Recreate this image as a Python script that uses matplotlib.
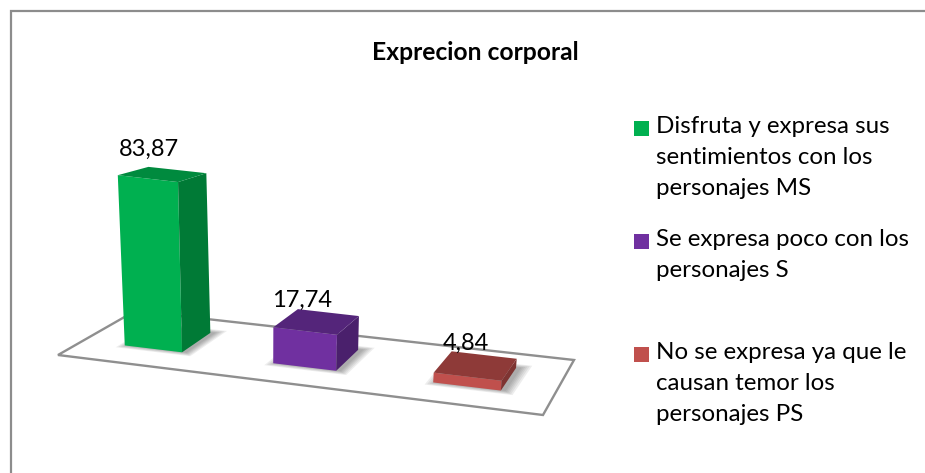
import matplotlib
matplotlib.use("Agg")
import matplotlib.pyplot as plt
from matplotlib.patches import Polygon, Rectangle
import numpy as np

# ---- data ----
categories = [
    "Disfruta y expresa sus\nsentimientos con los\npersonajes MS",
    "Se expresa poco con los\npersonajes S",
    "No se expresa ya que le\ncausan temor los\npersonajes PS",
]
values = [83.87, 17.74, 4.84]
value_labels = ["83,87", "17,74", "4,84"]
title = "Exprecion corporal"

# ---- style ----
front_colors = ["#00B050", "#7030A0", "#C0504D"]
top_colors = ["#008A3E", "#54257A", "#8E3A38"]
side_colors = ["#007A36", "#4A206C", "#7E3432"]
FONT = "Lato"
plt.rcParams["font.family"] = [FONT, "DejaVu Sans"]

# ---- projection of the 3D floor onto the picture ----
FL, FR, BR, BL = map(np.array, [(58, 355), (543, 415), (574, 360), (135, 311)])
centers = [0.149, 0.471, 0.8165]
half_w = [0.061, 0.067, 0.072]
V0, V1 = 0.33, 0.75
label_dx = [-13, -14, -9]
label_dy = [-18, -9, -8]


def project(s, v, z=0.0):
    base = (1 - v) * ((1 - s) * FL + s * FR) + v * ((1 - s) * BL + s * BR)
    k = 2.03 - (v - 0.33) * 0.3
    lean = -0.083 + 0.287 * (s - 0.088)
    return base + np.array([lean * z, -k * z])


fig = plt.figure(figsize=(9.25, 4.73), dpi=100, facecolor="white")
ax = fig.add_axes([0, 0, 1, 1])
ax.set_xlim(0, 925)
ax.set_ylim(473, 0)
ax.axis("off")

# chart frame
ax.plot([10.5, 10.5, 925], [473, 11.5, 11.5], color="#8C8C8C", lw=1.6,
        solid_joinstyle="miter", zorder=1)

# floor
ax.add_patch(Polygon([FL, FR, BR, BL], closed=True, facecolor="white",
                     edgecolor="#8F8F8F", lw=1.7, zorder=2))

for i, val in enumerate(values):
    s0, s1 = centers[i] - half_w[i], centers[i] + half_w[i]
    # soft shadow on the floor
    a, b, c, d = (project(s0, V0), project(s1, V0), project(s1, V1), project(s0, V1))
    foot = np.array([a, b, c, d])
    mid = foot.mean(axis=0)
    for g in (1.3, 1.24, 1.18, 1.13, 1.08, 1.03):
        pts = mid + (foot - mid) * g + np.array([4, 0])
        ax.add_patch(Polygon(pts, closed=True, facecolor="#555555", alpha=0.1,
                             edgecolor="none", zorder=3))
    ft0, ft1 = project(s0, V0, val), project(s1, V0, val)
    bt0, bt1 = project(s0, V1, val), project(s1, V1, val)
    ax.add_patch(Polygon([a, b, ft1, ft0], closed=True, facecolor=front_colors[i],
                         edgecolor="none", zorder=4))
    ax.add_patch(Polygon([b, c, bt1, ft1], closed=True, facecolor=side_colors[i],
                         edgecolor="none", zorder=4))
    ax.add_patch(Polygon([ft0, ft1, bt1, bt0], closed=True, facecolor=top_colors[i],
                         edgecolor="none", zorder=4))
    # value label above the bar
    lx = (ft0[0] + bt1[0]) / 2 + label_dx[i]
    ly = bt0[1] + label_dy[i]
    ax.text(lx, ly, value_labels[i], ha="center", va="center", fontsize=17,
            color="black", zorder=6)

ax.text(475, 52, title, ha="center", va="center", fontsize=17.7, fontweight="bold",
        color="black", zorder=6)

# legend
legend_y = [128.5, 241.5, 354.5]
for name, col, y in zip(categories, front_colors, legend_y):
    ax.add_patch(Rectangle((634, y - 7.5), 15, 15, facecolor=col, edgecolor="none", zorder=6))
    ax.text(656, y - 13, name, ha="left", va="top", fontsize=17.4, color="black",
            linespacing=1.6, zorder=6)

fig.savefig("out.png", dpi=100, facecolor="white")
